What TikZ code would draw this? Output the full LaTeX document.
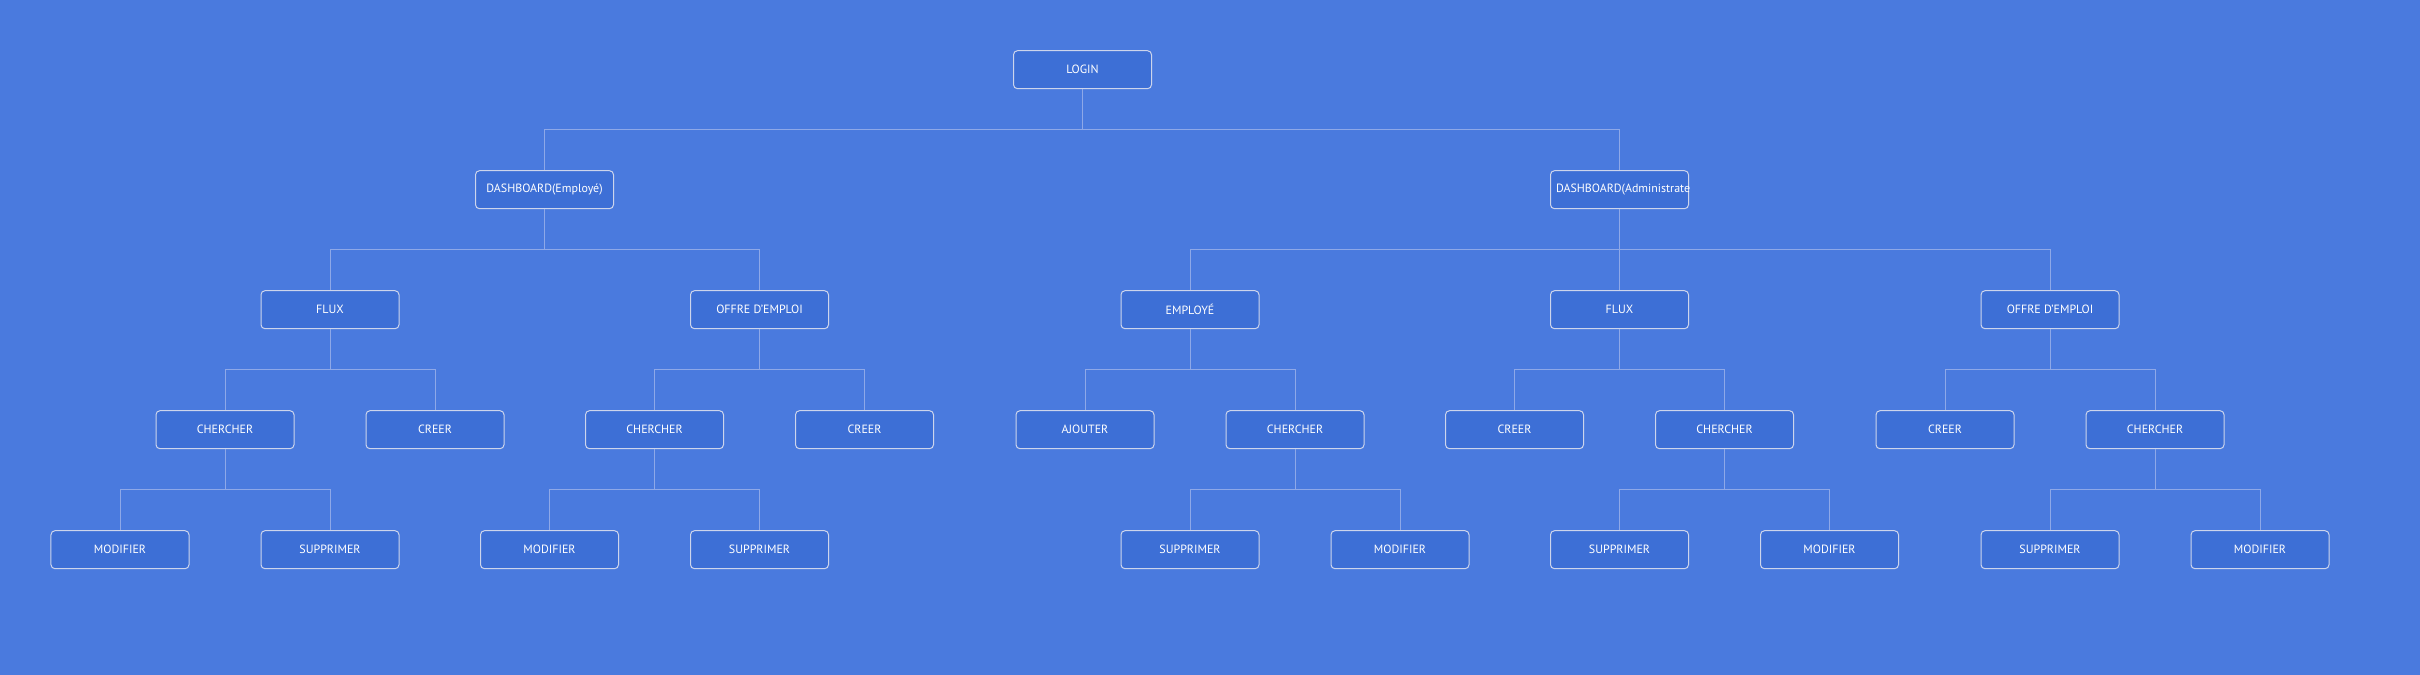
\documentclass[tikz,border=0pt]{standalone}
\usepackage{fontspec}
\setmainfont{PT Sans}
\definecolor{fond}{RGB}{74,122,222}
\definecolor{boitefond}{RGB}{61,111,214}
\definecolor{bord}{RGB}{205,213,236}
\definecolor{trait}{RGB}{142,168,232}
\tikzset{
  boite/.style={draw=bord, line width=1bp, fill=boitefond, rounded corners=4bp,
    minimum width=138bp, minimum height=38bp, inner sep=0pt, text=white,
    font=\fontsize{12}{14}\selectfont},
  lien/.style={draw=trait, line width=1bp}
}
\begin{document}
\begin{tikzpicture}[x=1bp,y=-1bp]
\useasboundingbox[fill=fond] (0,0) rectangle (2420,675);
% racine et tableaux de bord
\node[boite] (login) at (1082.5,69.7) {LOGIN};
\node[boite] (dashE) at (544.5,189.7) {DASHBOARD(Employé)};
\node[boite, text width=127bp, align=left, inner xsep=5.5bp] (dashA) at (1619.5,189.7) {DASHBOARD(Administrate};
% modules
\foreach \n/\x/\t in {fluxE/330/FLUX, offreE/759.5/OFFRE D'EMPLOI, employe/1190/EMPLOYÉ,
  fluxA/1619.5/FLUX, offreA/2050/OFFRE D'EMPLOI}
  \node[boite] (\n) at (\x,309.7) {\t};
\foreach \n/\x/\t in {chE1/225/CHERCHER, crE1/435/CREER, chE2/654.5/CHERCHER, crE2/864.5/CREER,
  ajout/1085/AJOUTER, chA1/1295/CHERCHER, crA2/1514.5/CREER, chA2/1724.5/CHERCHER,
  crA3/1945/CREER, chA3/2155/CHERCHER}
  \node[boite] (\n) at (\x,429.7) {\t};
\foreach \n/\x/\t in {modE1/120/MODIFIER, supE1/330/SUPPRIMER, modE2/549.5/MODIFIER,
  supE2/759.5/SUPPRIMER, supA1/1190/SUPPRIMER, modA1/1400/MODIFIER, supA2/1619.5/SUPPRIMER,
  modA2/1829.5/MODIFIER, supA3/2050/SUPPRIMER, modA3/2260/MODIFIER}
  \node[boite] (\n) at (\x,549.7) {\t};
% liens
\foreach \p/\c in {login/dashE, login/dashA, dashE/fluxE, dashE/offreE, dashA/employe,
  dashA/fluxA, dashA/offreA, fluxE/chE1, fluxE/crE1, offreE/chE2, offreE/crE2,
  employe/ajout, employe/chA1, fluxA/crA2, fluxA/chA2, offreA/crA3, offreA/chA3,
  chE1/modE1, chE1/supE1, chE2/modE2, chE2/supE2, chA1/supA1, chA1/modA1,
  chA2/supA2, chA2/modA2, chA3/supA3, chA3/modA3}
  \draw[lien] (\p.south) -- ++(0,40.5) -| (\c.north);
\end{tikzpicture}
\end{document}
